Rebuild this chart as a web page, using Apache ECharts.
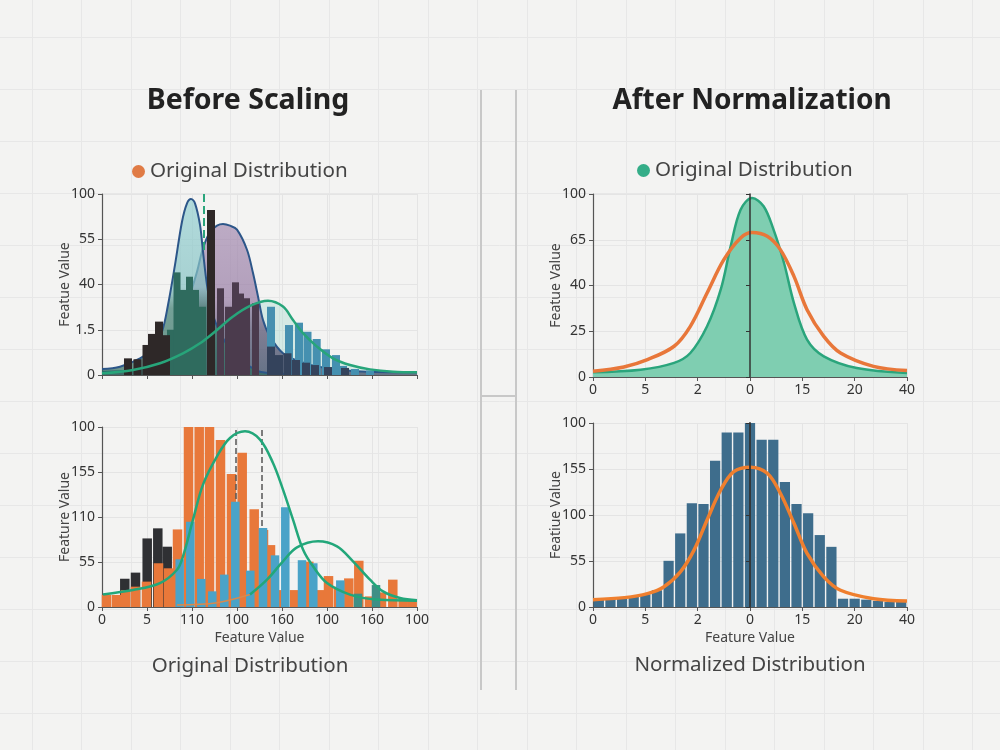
<!DOCTYPE html>
<html><head><meta charset="utf-8">
<script src="https://cdn.jsdelivr.net/npm/echarts/dist/echarts.min.js"></script>
<style>html,body{margin:0;padding:0;background:#f3f3f2}#c{width:1000px;height:750px}</style>
</head><body><div id="c"></div>
<script>
// ---------- tick labels ----------
const tlYLabels = ['0', '1.5', '40', '55', '100'];
const blYLabels = ['0', '55', '110', '155', '100'];
const blXLabels = ['0', '5', '110', '100', '160', '100', '160', '100'];
const trYLabels = ['0', '25', '40', '65', '100'];
const trXLabels = ['0', '5', '2', '0', '15', '20', '40'];
const brYLabels = ['0', '55', '100', '155', '100'];
const brXLabels = ['0', '5', '2', '0', '15', '20', '40'];

// ---------- top-left (Before Scaling, upper) ----------
const tlGreenCurve = [[0,0.9],[31,2.8],[58,6.5],[81,12],[98,17.5],[115,24.9],[131,32.3],[148,38.2],[166,41],[181,37.8],[191,30.4],[201,23.1],[215,15.7],[231,9.2],[248,5.5],[268,3.1],[291,1.8],[315,1.5]];
const tlTealPeak = [[0,3.3],[18,4.6],[38,9.2],[51,14.7],[60,24],[66,38.7],[73,60.8],[80,84.7],[85,94.8],[89,97.2],[93,94.8],[98,82.9],[101,68.1],[105,49.7],[110,35],[116,25.8],[125,16.6],[135,9.2],[148,4.6],[158,1.8],[175,0.8],[200,0.5]];
const tlPurplePeak = [[0,1.8],[31,2.8],[58,6.5],[71,15.7],[81,30],[88,44],[95,57],[101,70],[108,79],[115,82.5],[121,83.4],[128,82.5],[135,80.3],[145,69.2],[151,56.3],[156,43.4],[161,30.4],[168,21.2],[181,12],[198,7.4],[225,3.7],[265,1.8],[315,1.5]];
const tlBlackBars = [[26,9.2],[35.5,8.7],[44.5,16.6],[50,22.7],[57,29.5],[64,22],[109,91.2]];
const tlGreenBars = [[69,25],[75.5,56.7],[81,47],[88,54.3],[94,47],[101,37.7]];
const tlPurpleBars = [[119,47.9],[127,37.7],[134,51.2],[139,45],[145,42.4],[154,39.6]];
const tlBlueBars = [[169,37.7],[187,27.6],[197,28.9],[205.5,23.9],[214.7,19.9],[224,14.2],[234,11],[241,5],[253,3.3],[268,2.5]];
const tlNavyBars = [[169,15.7],[177,11],[185.5,12],[194,8.3],[204,6.8],[213,5.5],[226,4.4],[243,3.9]];
const tlMarker = [102, 69, 100];

// ---------- bottom-left (Before Scaling, lower) ----------
const blDarkBars = [[22.3,15.7],[33,19.1],[44.7,38.1],[55.3,43.7],[64.7,33.5]];
const blOrangeBars = [[4,6.7],[14,6.7],[23,9.4],[33,11.3],[44,14.1],[56,24.3],[66,21.5],[75,43.1],[86,100],[96.7,100],[107,100],[118,92.8],[129,73.9],[139.7,85.7],[151.7,54.3],[161,42.8],[168,34.4],[180,9.4],[192,9.4],[206.3,25.2],[217,9.4],[226,17.2],[236,11.3],[246.3,15.9],[256.3,25.7],[267,5.9],[279,8.1],[290.3,15.2],[300.7,4.4],[309.7,4.4]];
const blBlueBars = [[77.7,26.5],[88.3,47.4],[99.3,15.6],[110.3,8.7],[122.3,18],[133.3,58.5],[148.3,20.2],[161,43.9],[173,28.7],[183.3,55.4],[200,26],[211.3,24.3],[238.3,14.8]];
const blTealBars = [[256,7.4],[274,12.2]];
const blGreenMain = [[1,7],[31,9.4],[58,13.3],[75,20.7],[81,28.1],[91,48.5],[101,68],[115,83.7],[128,93.9],[143,97.6],[158,93],[171,80],[181,65.2],[191,48.5],[201,31.9],[211,22.6],[225,13.3],[248,6.9],[275,4.1],[315,3.5]];
const blOrangeTail = [[75,1.1],[115,2.4],[148,6.9]];
const blGreenSecond = [[148,6.9],[165,15.2],[181,25.4],[195,33.1],[216,36.5],[235,33.7],[251,25.4],[268,15.2],[281,8.7],[298,5],[315,3.7]];
const blMarkers = [134, 160];

// ---------- top-right (After Normalization, upper) ----------
const trGreen = [[0,2.6],[9.1,4],[15.5,7.7],[18.6,13.1],[21.8,27.7],[24.4,47.7],[26.3,71.4],[28.2,91.4],[30.4,97.8],[32.6,93.3],[34.5,80.5],[36.5,62.3],[38.4,40.4],[40.9,20.4],[44.1,11.3],[50.4,4.9],[60,2.2]];
const trOrange = [[0,3.1],[5.9,5.5],[10.4,9.5],[15.5,16.8],[18.6,27.7],[21.8,45.9],[25,64.1],[28.2,76],[30.4,79],[33.3,76.9],[35.8,69.6],[38.4,55],[40.9,36.8],[44.1,22.2],[47.3,13.1],[53.6,5.8],[60,3.5]];

// ---------- bottom-right (After Normalization, lower) ----------
const brBins = ['1','2','3','4','5','6','7','8','9','10','11','12','13','14','15','16','17','18','19','20','21','22','23','24','25','26','27'];
const brCounts = [4.5,4.5,5.1,5.8,6.9,9.1,25.1,40,56.4,56,79.5,94.9,94.9,100.4,90.9,90.9,68,56,50.9,39.1,32.7,4.5,4.5,4,3.3,2.7,2.7];
const brOrange = [[0,4],[6,5.1],[10.4,7.3],[13.5,10.9],[16.7,19.1],[19.3,30.9],[21.8,47.3],[24.4,63.6],[26.9,73.6],[30.1,76],[33.3,72.7],[35.8,61.8],[38.4,45.5],[40.9,29.1],[44.1,16.4],[47.3,9.1],[53.6,4.5],[60,3.3]];

// ---------- styling helpers ----------
const FONT = 'Noto Sans';
const axisLineStyle = { show: true, lineStyle: { color: '#555', width: 1.2 } };
const tickStyle = { show: true, length: 4, lineStyle: { color: '#555', width: 1 } };
const split = { show: true, lineStyle: { color: '#e4e4e4', width: 1 } };
function yAxisFor(grid, labels, name) {
  return {
    gridIndex: grid, type: 'value', min: 0, max: 100, interval: 25,
    name: name, nameLocation: 'middle', nameGap: 30, nameMoveOverlap: false,
    nameTextStyle: { fontSize: 14, color: '#444', fontFamily: FONT },
    axisLine: axisLineStyle, axisTick: tickStyle, splitLine: split,
    axisLabel: { color: '#333', fontSize: 14, fontFamily: FONT, margin: 7,
      formatter: v => labels[Math.round(v / 25)] }
  };
}
function xAxisFor(grid, max, interval, labels, name) {
  return {
    gridIndex: grid, type: 'value', min: 0, max: max, interval: interval,
    name: name || '', nameLocation: 'middle', nameGap: 24,
    nameTextStyle: { fontSize: 14, color: '#444', fontFamily: FONT },
    axisLine: axisLineStyle, axisTick: tickStyle, splitLine: split,
    axisLabel: { show: !!labels, color: '#333', fontSize: 14, fontFamily: FONT, margin: 6,
      formatter: v => labels ? labels[Math.round(v / interval)] : '' }
  };
}
function barSeries(name, xi, yi, data, color, width, z, opacity) {
  return { name: name, type: 'bar', xAxisIndex: xi, yAxisIndex: yi, data: data,
    barWidth: width, barGap: '-100%', z: z, silent: true,
    itemStyle: { color: color, opacity: opacity == null ? 1 : opacity } };
}
function grad(stops) {
  return new echarts.graphic.LinearGradient(0, 0, 0, 1, stops.map(s => ({ offset: s[0], color: s[1] })));
}

const chart = echarts.init(document.getElementById('c'), null, { renderer: 'canvas' });
const option = {
  animation: false,
  backgroundColor: '#f3f3f2',
  textStyle: { fontFamily: FONT },
  grid: [
    { left: -17.5, top: -15, width: 1017.5, height: 780, outerBoundsMode: 'none', z: -1 },
    { left: 102, top: 194, width: 315, height: 181, outerBoundsMode: 'none' },
    { left: 102, top: 427, width: 315, height: 180, outerBoundsMode: 'none' },
    { left: 593, top: 194, width: 314, height: 183, outerBoundsMode: 'none' },
    { left: 593, top: 423, width: 314, height: 184, outerBoundsMode: 'none' }
  ],
  xAxis: [
    { gridIndex: 0, type: 'value', min: 0, max: 1017.5, interval: 49.5, z: -1, axisLine: { show: false }, axisTick: { show: false }, axisLabel: { show: false }, splitLine: { show: true, lineStyle: { color: '#e7e7e7' } } },
    xAxisFor(1, 315, 45, null),
    xAxisFor(2, 315, 45, blXLabels, 'Feature Value'),
    xAxisFor(3, 60, 10, trXLabels),
    xAxisFor(4, 60, 10, brXLabels, 'Feature Value'),
    { gridIndex: 4, type: 'category', data: brBins, show: false, boundaryGap: true }
  ],
  yAxis: [
    { gridIndex: 0, type: 'value', min: 0, max: 780, interval: 52, z: -1, axisLine: { show: false }, axisTick: { show: false }, axisLabel: { show: false }, splitLine: { show: true, lineStyle: { color: '#e7e7e7' } } },
    yAxisFor(1, tlYLabels, 'Featue Value'),
    yAxisFor(2, blYLabels, 'Feature Value'),
    yAxisFor(3, trYLabels, 'Featue Value'),
    yAxisFor(4, brYLabels, 'Featiue Value'),
    { gridIndex: 3, type: 'value', min: 0, max: 100, interval: 25, position: 'left', offset: -157,
      axisLine: { show: true, lineStyle: { color: '#333', width: 1.5 } },
      axisTick: { show: true, length: 4, inside: false, lineStyle: { color: '#333' } },
      axisLabel: { show: false }, splitLine: { show: false }, z: 10 },
    { gridIndex: 4, type: 'value', min: 0, max: 100, interval: 25, position: 'left', offset: -157,
      axisLine: { show: true, lineStyle: { color: '#333', width: 1.8 } },
      axisTick: { show: true, length: 4, inside: false, lineStyle: { color: '#333' } },
      axisLabel: { show: false }, splitLine: { show: false }, z: 10 }
  ],
  legend: [
    { left: 127, top: 156, selectedMode: false, itemWidth: 13, itemHeight: 13,
      textStyle: { fontSize: 20.6, color: '#444', fontFamily: FONT },
      data: [{ name: 'Original Distribution', icon: 'circle', itemStyle: { color: '#e07b45' } }] },
    { left: 632, top: 155, selectedMode: false, itemWidth: 13, itemHeight: 13,
      textStyle: { fontSize: 20.6, color: '#444', fontFamily: FONT },
      data: [{ name: 'Original Distribution', icon: 'circle', itemStyle: { color: '#34ad88' } }] }
  ],
  graphic: [
    { type: 'text', x: 248, y: 101, z: 100, silent: true, style: { text: 'Before Scaling', align: 'center', verticalAlign: 'middle', font: 'bold 28.5px "Noto Sans"', fill: '#222' } },
    { type: 'text', x: 752, y: 101, z: 100, silent: true, style: { text: 'After Normalization', align: 'center', verticalAlign: 'middle', font: 'bold 28px "Noto Sans"', fill: '#222' } },
    { type: 'text', x: 250, y: 666, z: 100, silent: true, style: { text: 'Original Distribution', align: 'center', verticalAlign: 'middle', font: '20.5px "Noto Sans"', fill: '#444' } },
    { type: 'text', x: 750, y: 665, z: 100, silent: true, style: { text: 'Normalized Distribution', align: 'center', verticalAlign: 'middle', font: '20.5px "Noto Sans"', fill: '#444' } },
    { type: 'line', z: 100, silent: true, shape: { x1: 481, y1: 90, x2: 481, y2: 690 }, style: { stroke: '#c8c8c8', lineWidth: 2 } },
    { type: 'line', z: 100, silent: true, shape: { x1: 516, y1: 90, x2: 516, y2: 690 }, style: { stroke: '#c8c8c8', lineWidth: 2 } },
    { type: 'line', z: 100, silent: true, shape: { x1: 481, y1: 396, x2: 516, y2: 396 }, style: { stroke: '#c8c8c8', lineWidth: 2 } }
  ],
  series: [
    // ---- top-left ----
    { name: 'tlGreenFill', type: 'line', xAxisIndex: 1, yAxisIndex: 1, data: tlGreenCurve, smooth: 0.35, symbol: 'none', z: 1, silent: true,
      lineStyle: { width: 0 }, areaStyle: { color: 'rgba(170,220,210,0.6)' } },
    { name: 'tlPurple', type: 'line', xAxisIndex: 1, yAxisIndex: 1, data: tlPurplePeak, smooth: 0.35, symbol: 'none', z: 2, silent: true,
      lineStyle: { color: '#2c5689', width: 2 },
      areaStyle: { color: grad([[0,'#a58cb1'],[0.5,'#967ba4'],[0.72,'#5a4f70'],[1,'#36415f']]) } },
    { name: 'tlTeal', type: 'line', xAxisIndex: 1, yAxisIndex: 1, data: tlTealPeak, smooth: 0.35, symbol: 'none', z: 3, silent: true,
      lineStyle: { color: '#2c5689', width: 2 },
      areaStyle: { color: grad([[0,'#95d0d2'],[0.5,'#86c3c4'],[0.62,'#3e7d70'],[1,'#2e6a5c']]) } },
    barSeries('tlBlue', 1, 1, tlBlueBars, '#4590b0', 8, 4),
    barSeries('tlGreenBars', 1, 1, tlGreenBars, '#2f6b5e', 7, 4),
    barSeries('tlPurpleBars', 1, 1, tlPurpleBars, '#4b3b4d', 7, 4),
    barSeries('tlBlack', 1, 1, tlBlackBars, '#2e2828', 8, 5),
    barSeries('tlNavy', 1, 1, tlNavyBars, '#34435c', 8, 5),
    { name: 'tlGreenLine', type: 'line', xAxisIndex: 1, yAxisIndex: 1, data: tlGreenCurve, smooth: 0.35, symbol: 'none', z: 8, silent: true,
      lineStyle: { color: '#27a57a', width: 2.5 },
      markLine: { silent: true, symbol: 'none', label: { show: false }, lineStyle: { color: '#2aa57c', width: 2, type: 'dashed' },
        data: [[{ coord: [tlMarker[0], tlMarker[1]] }, { coord: [tlMarker[0], tlMarker[2]] }]] } },
    // ---- bottom-left ----
    barSeries('blDark', 2, 2, blDarkBars, '#2f3033', 9.5, 3),
    barSeries('blOrange', 2, 2, blOrangeBars, '#e8783a', 9.5, 4),
    barSeries('blBlue', 2, 2, blBlueBars, '#4aa3c8', 8.5, 5),
    barSeries('blTeal', 2, 2, blTealBars, '#3f8f86', 8.5, 5),
    { name: 'blOrangeTail', type: 'line', xAxisIndex: 2, yAxisIndex: 2, data: blOrangeTail, smooth: 0.35, symbol: 'none', z: 8, silent: true,
      lineStyle: { color: '#d9894c', width: 1.5 } },
    { name: 'blGreenSecond', type: 'line', xAxisIndex: 2, yAxisIndex: 2, data: blGreenSecond, smooth: 0.35, symbol: 'none', z: 8, silent: true,
      lineStyle: { color: '#22a77a', width: 2.5 } },
    { name: 'blGreenMain', type: 'line', xAxisIndex: 2, yAxisIndex: 2, data: blGreenMain, smooth: 0.35, symbol: 'none', z: 8, silent: true,
      lineStyle: { color: '#22a77a', width: 2.5 },
      markLine: { silent: true, symbol: 'none', label: { show: false }, lineStyle: { color: '#555', width: 1.5, type: 'dashed' },
        data: blMarkers.map(m => [{ coord: [m, 0] }, { coord: [m, 100] }]) } },
    // ---- top-right ----
    { name: 'Original Distribution', type: 'line', xAxisIndex: 3, yAxisIndex: 3, data: trGreen, smooth: 0.35, symbol: 'none', z: 3, silent: true,
      itemStyle: { color: '#34ad88' },
      lineStyle: { color: '#2aa57c', width: 2.5 }, areaStyle: { color: '#7fceb1', opacity: 1 } },
    { name: 'trOrange', type: 'line', xAxisIndex: 3, yAxisIndex: 3, data: trOrange, smooth: 0.35, symbol: 'none', z: 4, silent: true,
      lineStyle: { color: '#e8773a', width: 3.5 } },
    // ---- bottom-right ----
    { name: 'brHist', type: 'bar', xAxisIndex: 5, yAxisIndex: 4, data: brCounts, barCategoryGap: '12%', z: 3, silent: true,
      itemStyle: { color: '#3e6d8c' } },
    { name: 'brOrange', type: 'line', xAxisIndex: 4, yAxisIndex: 4, data: brOrange, smooth: 0.35, symbol: 'none', z: 5, silent: true,
      lineStyle: { color: '#ef7f2e', width: 3.5 } }
  ]
};
chart.setOption(option);
</script>
</body></html>
